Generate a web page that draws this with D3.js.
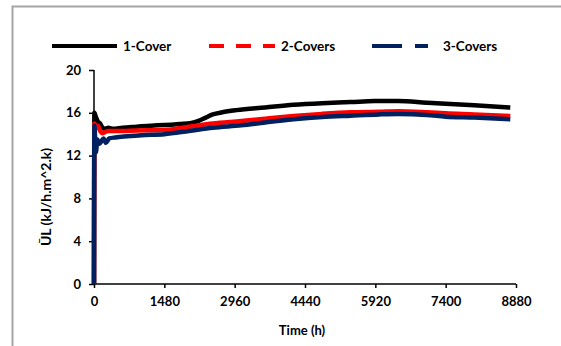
<!DOCTYPE html>
<html>
<head>
<meta charset="utf-8">
<script src="https://cdn.jsdelivr.net/npm/d3@7"></script>
<style>
  body { margin: 0; background: #fff; }
  text { font-family: Lato, "Open Sans", sans-serif; font-weight: bold; }
</style>
</head>
<body>
<div id="chart"></div>
<script>
// datos (tiempo en h, UL en kJ/h.m^2.k)
const seriesNames = ["1-Cover", "2-Covers", "3-Covers"];
const seriesColors = ["#000000", "#ff0000", "#002060"];

const cover1 = [[0,0],[8,16.0],[40,15.6],[80,15.2],[130,15.0],[180,14.6],[230,14.5],[300,14.6],[400,14.5],[600,14.6],[900,14.7],[1200,14.8],[1480,14.85],[1800,14.95],[2050,15.05],[2200,15.25],[2350,15.55],[2500,15.85],[2700,16.05],[3000,16.25],[3600,16.5],[4200,16.75],[4800,16.9],[5400,17.0],[5900,17.1],[6400,17.1],[7000,16.95],[7400,16.85],[8000,16.7],[8760,16.5]];
const cover2 = [[0,0],[8,15.0],[40,14.6],[80,14.8],[130,14.3],[180,14.1],[230,14.2],[300,14.3],[500,14.3],[900,14.35],[1480,14.4],[2000,14.7],[2500,15.0],[3100,15.23],[3600,15.45],[4200,15.7],[4800,15.9],[5400,16.05],[6000,16.1],[6400,16.15],[7000,16.05],[7400,15.95],[8000,15.85],[8760,15.7]];
const cover3 = [[0,0],[8,14.8],[40,12.3],[70,13.5],[110,13.1],[150,13.3],[200,13.6],[250,13.2],[320,13.6],[450,13.7],[700,13.8],[1000,13.9],[1480,14.0],[2000,14.3],[2500,14.6],[3100,14.83],[3600,15.1],[4200,15.39],[4800,15.6],[5400,15.73],[6000,15.85],[6400,15.89],[7000,15.8],[7400,15.64],[8000,15.55],[8760,15.39]];

const xTicks = [0, 1480, 2960, 4440, 5920, 7400, 8880];
const yTicks = [0, 4, 8, 12, 16, 20];

const W = 561, H = 346;
const margin = { top: 70, right: 45, bottom: 62, left: 94 };
const width = W - margin.left - margin.right;
const height = H - margin.top - margin.bottom;

const root = d3.select("#chart").append("svg")
  .attr("width", W)
  .attr("height", H);

// marco gris
root.append("rect")
  .attr("x", 12.5).attr("y", 6.5)
  .attr("width", 700).attr("height", 500)
  .attr("fill", "none")
  .attr("stroke", "#a6a6a6")
  .attr("stroke-width", 2);

const svg = root.append("g")
  .attr("transform", `translate(${margin.left},${margin.top})`);

const x = d3.scaleLinear().domain([0, 8880]).range([0, width]);
const y = d3.scaleLinear().domain([0, 20]).range([height, 0]);

// ejes
const gx = svg.append("g")
  .attr("transform", `translate(0,${height})`)
  .call(d3.axisBottom(x).tickValues(xTicks).tickFormat(d3.format("d")).tickSize(4).tickPadding(9));
const gy = svg.append("g")
  .call(d3.axisLeft(y).tickValues(yTicks).tickFormat(d3.format("d")).tickSize(5).tickPadding(8));

[gx, gy].forEach(g => {
  g.select(".domain").attr("stroke", "#000").attr("stroke-width", 1.5);
  g.selectAll(".tick line").attr("stroke", "#000").attr("stroke-width", 1.5);
  g.selectAll(".tick text").style("font-size", "13px").attr("fill", "#000")
    .style("font-family", "Lato, sans-serif").style("font-weight", "bold");
});
gx.select(".domain").attr("d", `M0,0H${width}`);
gy.select(".domain").attr("d", `M0,${height}V0`);

// titulos de ejes
svg.append("text")
  .attr("x", width / 2 - 3)
  .attr("y", height + 51)
  .attr("text-anchor", "middle")
  .style("font-size", "13px")
  .text("Time (h)");

svg.append("text")
  .attr("transform", "rotate(-90)")
  .attr("x", -127)
  .attr("y", -43)
  .attr("text-anchor", "middle")
  .style("font-size", "14px")
  .text("ŪL (kJ/h.m^2.k)");

// lineas
const line = d3.line()
  .curve(d3.curveMonotoneX)
  .x(d => x(d[0]))
  .y(d => y(d[1]));

[cover1, cover2, cover3].forEach((data, i) => {
  svg.append("path")
    .datum(data)
    .attr("fill", "none")
    .attr("stroke", seriesColors[i])
    .attr("stroke-width", 4.5)
    .attr("stroke-linejoin", "round")
    .attr("d", line);
});

// leyenda
const legendX = [52, 209, 372];
const legendLen = [65, 66, 56];
const legendDash = [null, "15,12", "30,13"];
const legend = root.append("g");
seriesNames.forEach((name, i) => {
  legend.append("line")
    .attr("x1", legendX[i]).attr("x2", legendX[i] + legendLen[i])
    .attr("y1", 46).attr("y2", 46)
    .attr("stroke", seriesColors[i])
    .attr("stroke-width", 4)
    .attr("stroke-dasharray", legendDash[i]);
  legend.append("text")
    .attr("x", legendX[i] + legendLen[i] + (i === 2 ? 15 : 6))
    .attr("y", 51)
    .style("font-size", "13.5px")
    .text(name);
});
</script>
</body>
</html>
